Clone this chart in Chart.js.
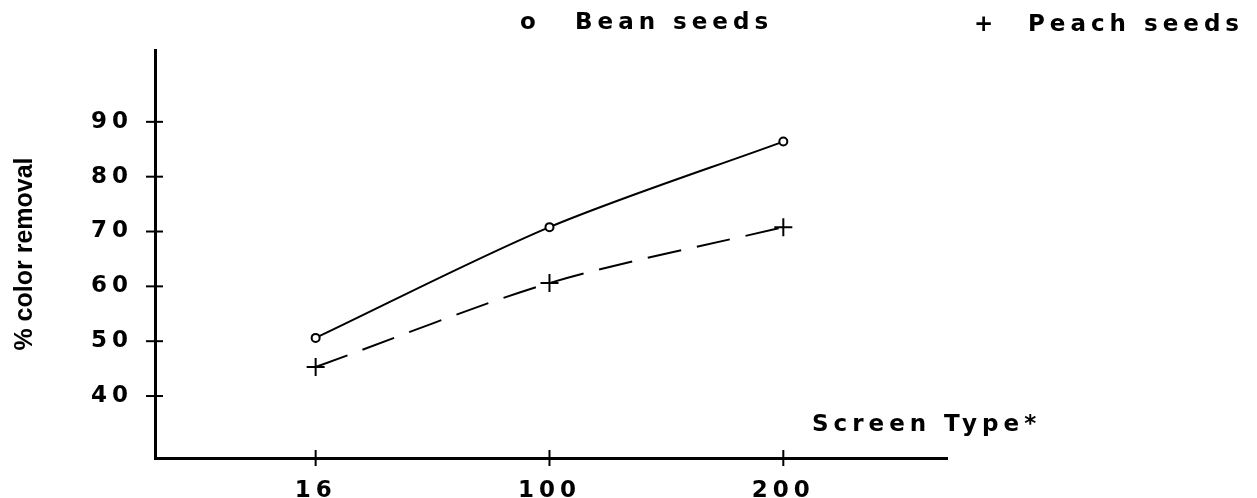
<!DOCTYPE html>
<html>
<head>
<meta charset="utf-8">
<script src="https://cdn.jsdelivr.net/npm/chart.js@4.4.1/dist/chart.umd.min.js"></script>
<style>
  html, body { margin: 0; padding: 0; background: #fff; }
  #wrap { width: 1257px; height: 498px; }
</style>
</head>
<body>
<div id="wrap"><canvas id="myChart"></canvas></div>
<script>
var xLabels = ["16", "100", "200"];
var beanValues = [50.6, 70.8, 86.4];
var peachValues = [45.3, 60.6, 70.8];
var yTicks = [40, 50, 60, 70, 80, 90];

var boldFont = "'DejaVu Sans', 'Liberation Sans', sans-serif";

// tick marks that cross the axis line, legend, axis titles
var paperPlugin = {
    id: 'paper',
    beforeDraw: function(chart){
        chart.ctx.letterSpacing = '5px';
    },
    afterDraw: function(chart){
        var ctx = chart.ctx;
        var area = chart.chartArea;
        var xs = chart.scales.x, ys = chart.scales.y;
        ctx.save();
        ctx.strokeStyle = '#000';
        ctx.lineWidth = 2;
        ys.ticks.forEach(function(t){
            var py = ys.getPixelForValue(t.value);
            ctx.beginPath();
            ctx.moveTo(area.left - 9, py);
            ctx.lineTo(area.left + 8, py);
            ctx.stroke();
        });
        xs.ticks.forEach(function(t){
            var px = xs.getPixelForValue(t.value);
            ctx.beginPath();
            ctx.moveTo(px, area.bottom - 8);
            ctx.lineTo(px, area.bottom + 8);
            ctx.stroke();
        });

        ctx.fillStyle = '#000';
        ctx.textBaseline = 'middle';
        ctx.textAlign = 'left';
        ctx.letterSpacing = '5px';
        ctx.font = 'bold 23px ' + boldFont;
        ctx.fillText('Screen Type*', 812, area.bottom - 33);

        ctx.fillText('o', 520, 23);
        ctx.fillText(chart.data.datasets[0].label, 575, 23);
        ctx.fillText('+', 974, 25);
        ctx.fillText(chart.data.datasets[1].label, 1028, 25);

        // y axis title
        ctx.letterSpacing = '0px';
        ctx.translate(25, (area.top + area.bottom) / 2);
        ctx.rotate(-Math.PI / 2);
        ctx.textAlign = 'center';
        ctx.font = 'bold 25px "Liberation Sans", Arial, sans-serif';
        ctx.fillText('% color removal', 0, 0);
        ctx.restore();
    }
};

var ctx = document.getElementById("myChart").getContext('2d');
var myChart = new Chart(ctx, {
    type: 'line',
    data: {
        datasets: [{
            label: 'Bean seeds',
            data: beanValues.map(function(v, i){ return {x: i, y: v}; }),
            borderColor: '#000',
            borderWidth: 2,
            tension: 0.3,
            pointStyle: 'circle',
            pointRadius: 4,
            pointBorderWidth: 2,
            pointBackgroundColor: '#fff',
            pointBorderColor: '#000'
        }, {
            label: 'Peach seeds',
            data: peachValues.map(function(v, i){ return {x: i, y: v}; }),
            borderColor: '#000',
            borderWidth: 2,
            borderDash: [34, 16],
            tension: 0.3,
            pointStyle: 'cross',
            pointRadius: 9,
            pointBorderWidth: 2,
            pointBorderColor: '#000'
        }]
    },
    options: {
        responsive: true,
        maintainAspectRatio: false,
        animation: false,
        layout: { padding: { top: 50, right: 310, left: 0, bottom: 0 } },
        plugins: {
            legend: { display: false },
            tooltip: { enabled: false }
        },
        scales: {
            x: {
                type: 'linear',
                min: -0.687,
                max: 2.70,
                afterBuildTicks: function(axis){
                    axis.ticks = xLabels.map(function(l, i){ return {value: i}; });
                },
                afterFit: function(axis){ axis.height = 40; },
                grid: { display: false },
                border: { display: true, color: '#000', width: 3 },
                ticks: {
                    padding: 11,
                    color: '#000',
                    maxRotation: 0,
                    font: { family: boldFont, size: 23, weight: 'bold' },
                    callback: function(v){ return xLabels[v]; }
                }
            },
            y: {
                min: 28.7,
                max: 103.1,
                afterBuildTicks: function(axis){
                    axis.ticks = yTicks.map(function(v){ return {value: v}; });
                },
                afterFit: function(axis){ axis.width = 155; },
                grid: { display: false },
                border: { display: true, color: '#000', width: 3 },
                ticks: {
                    padding: 14,
                    color: '#000',
                    font: { family: boldFont, size: 23, weight: 'bold' }
                }
            }
        }
    },
    plugins: [paperPlugin]
});
</script>
</body>
</html>
